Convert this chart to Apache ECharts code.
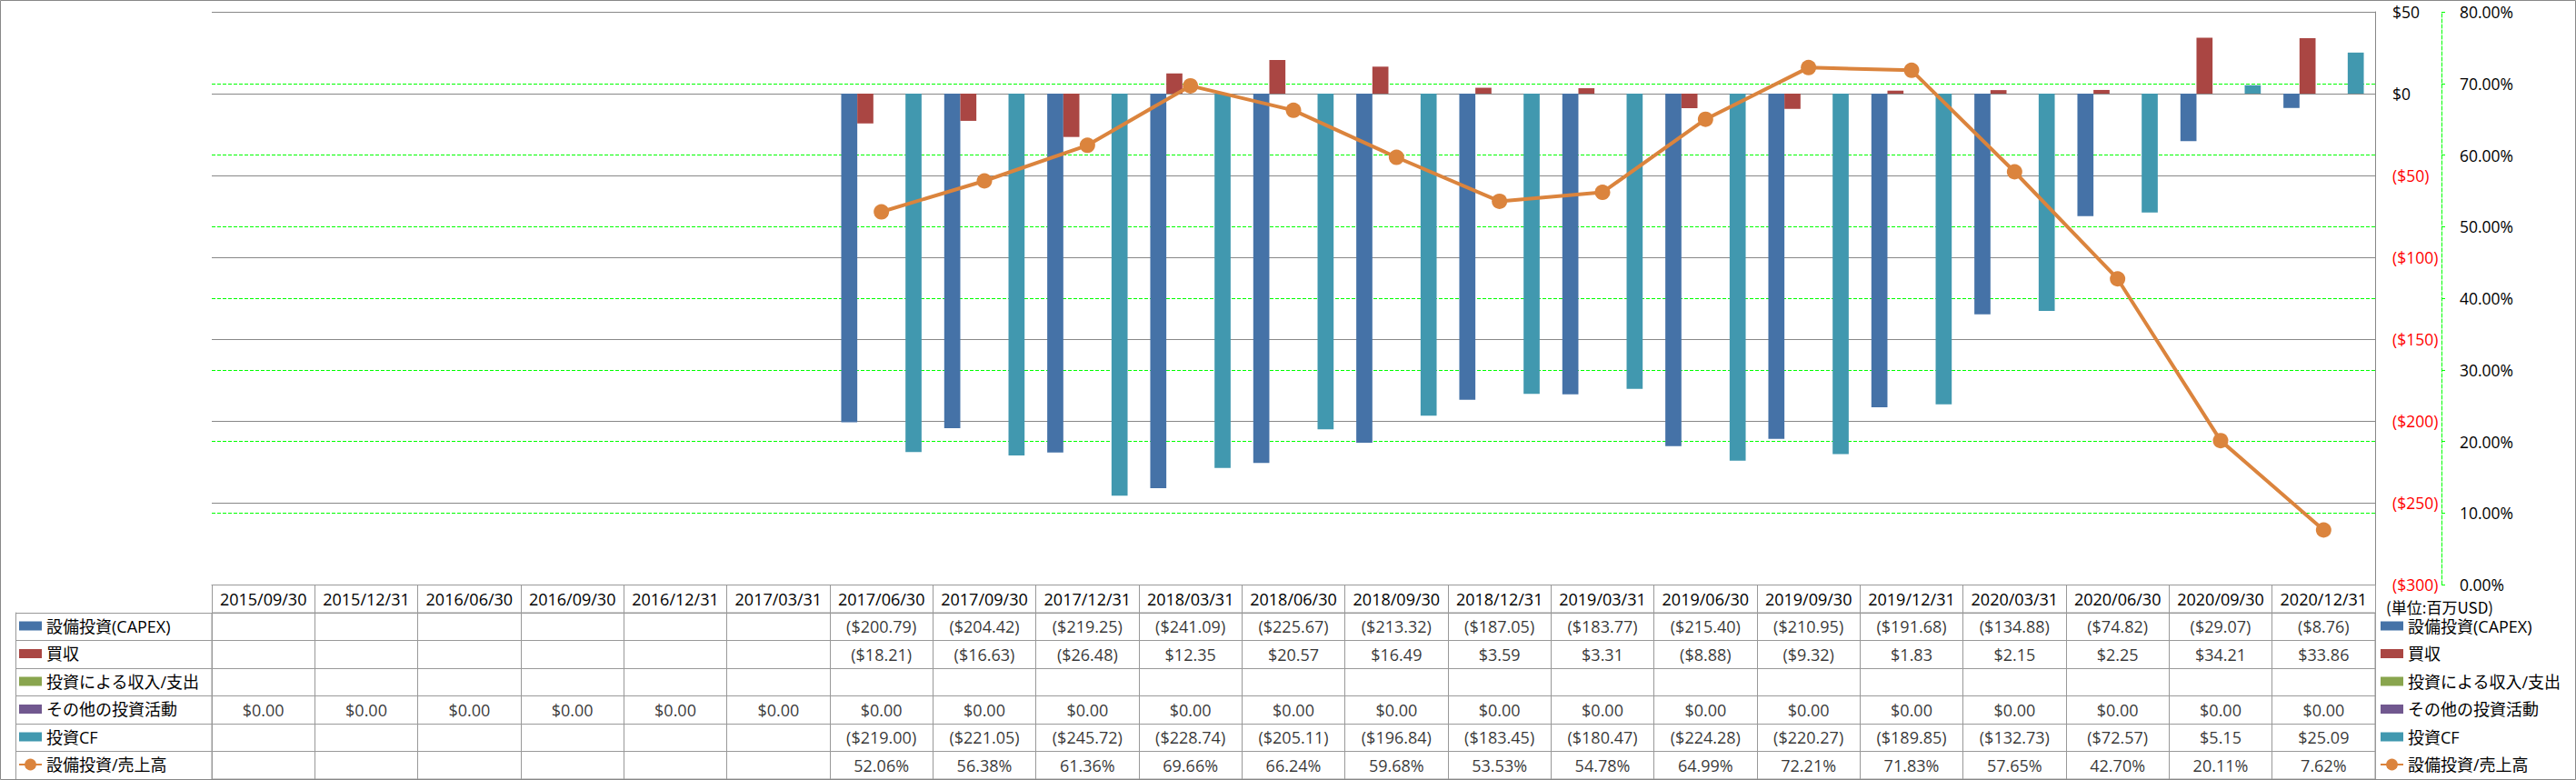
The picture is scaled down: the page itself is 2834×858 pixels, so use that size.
<!DOCTYPE html>
<html><head><meta charset="utf-8">
<script src="https://cdn.jsdelivr.net/npm/echarts@6/dist/echarts.min.js"></script>
<style>html,body{margin:0;padding:0;background:#fff;}#c{width:2834px;height:858px;}</style>
</head><body><div id="c"></div>
<script>
const categories = ['2015/09/30','2015/12/31','2016/06/30','2016/09/30','2016/12/31','2017/03/31','2017/06/30','2017/09/30','2017/12/31','2018/03/31','2018/06/30','2018/09/30','2018/12/31','2019/03/31','2019/06/30','2019/09/30','2019/12/31','2020/03/31','2020/06/30','2020/09/30','2020/12/31'];
const seriesNames = ['設備投資(CAPEX)','買収','投資による収入/支出','その他の投資活動','投資CF','設備投資/売上高'];
const capex = [null,null,null,null,null,null,-200.79,-204.42,-219.25,-241.09,-225.67,-213.32,-187.05,-183.77,-215.40,-210.95,-191.68,-134.88,-74.82,-29.07,-8.76];
const acquisition = [null,null,null,null,null,null,-18.21,-16.63,-26.48,12.35,20.57,16.49,3.59,3.31,-8.88,-9.32,1.83,2.15,2.25,34.21,33.86];
const investIncome = [null,null,null,null,null,null,null,null,null,null,null,null,null,null,null,null,null,null,null,null,null];
const otherInvest = [0,0,0,0,0,0,0,0,0,0,0,0,0,0,0,0,0,0,0,0,0];
const investCF = [null,null,null,null,null,null,-219.00,-221.05,-245.72,-228.74,-205.11,-196.84,-183.45,-180.47,-224.28,-220.27,-189.85,-132.73,-72.57,5.15,25.09];
const capexRatio = [null,null,null,null,null,null,52.06,56.38,61.36,69.66,66.24,59.68,53.53,54.78,64.99,72.21,71.83,57.65,42.70,20.11,7.62];
const leftTicks = [-300,-250,-200,-150,-100,-50,0,50];
const rightTicks = [0,10,20,30,40,50,60,70,80];
const unitLabel = '(単位:百万USD)';

const colors = ['#4572A7','#AA4643','#89A54E','#71588F','#4198AF','#DB843D'];
const rows = [capex, acquisition, investIncome, otherInvest, investCF, capexRatio];
const rowIds = rows.map((_, i) => String(i));

function fmtMoney(v){ return v < 0 ? '($' + (-v).toFixed(2) + ')' : '$' + v.toFixed(2); }
function fmtPct(v){ return v.toFixed(2) + '%'; }

const tableData = [];
rows.forEach((arr, r) => {
  arr.forEach((v, i) => {
    if (v === null || v === undefined) return;
    tableData.push({ name: r === 5 ? fmtPct(v) : fmtMoney(v), value: [i, r] });
  });
});

const latinFont = 'Open Sans';
const cjkFont = '"Open Sans", "Noto Sans CJK JP"';
const rectIcon = 'path://M0,0H25V10H0Z';
function legendCfg(left){
  return {
    orient: 'vertical', left: left, top: 678.5, padding: 0,
    itemWidth: 25, itemHeight: 16, itemGap: 10.5,
    textStyle: { fontSize: 18, lineHeight: 20, fontFamily: cjkFont, color: '#000' },
    data: seriesNames.map((n, i) => i < 5 ? { name: n, icon: rectIcon } : { name: n }),
    selectedMode: false
  };
}

const chart = echarts.init(document.getElementById('c'), null, { renderer: 'svg' });
const barSeries = [capex, acquisition, investIncome, otherInvest, investCF].map((d, i) => ({
  name: seriesNames[i], type: 'bar', xAxisIndex: 0, yAxisIndex: 0, data: d,
  barGap: '0%', barCategoryGap: '22%', itemStyle: { color: colors[i] }
}));

chart.setOption({
  animation: false,
  color: colors,
  legend: [legendCfg(20), legendCfg(2618)],
  grid: [
    { left: 233, right: 221, top: 13, bottom: 215 },
    { left: 233, right: 221, top: 674, bottom: 1, show: true, borderColor: '#999', borderWidth: 1 }
  ],
  xAxis: [
    { gridIndex: 0, type: 'category', data: categories, position: 'bottom',
      axisLabel: { show: false }, axisTick: { show: false },
      axisLine: { show: true, onZero: false, lineStyle: { color: '#999' } }, splitLine: { show: false } },
    { gridIndex: 1, type: 'category', data: categories, position: 'top',
      axisLine: { show: true, lineStyle: { color: '#999' } },
      axisTick: { show: true, interval: 0, length: 31, lineStyle: { color: '#999' } },
      axisLabel: { show: true, interval: 0, margin: 6.5, fontSize: 18, fontFamily: latinFont, color: '#000' },
      splitLine: { show: true, interval: 0, lineStyle: { color: '#999' } } }
  ],
  yAxis: [
    { gridIndex: 0, type: 'value', position: 'right',
      min: leftTicks[0], max: leftTicks[leftTicks.length - 1], interval: leftTicks[1] - leftTicks[0],
      axisLine: { show: true, lineStyle: { color: '#888' } }, axisTick: { show: false },
      axisLabel: { margin: 19, align: 'left', fontSize: 17.5, fontFamily: latinFont,
        color: v => (v < 0 ? '#FF0000' : '#000'),
        formatter: v => (v < 0 ? '($' + (-v) + ')' : '$' + v) },
      splitLine: { show: true, lineStyle: { color: '#888', width: 1 } } },
    { gridIndex: 0, type: 'value', position: 'right', offset: 73,
      min: rightTicks[0], max: rightTicks[rightTicks.length - 1], interval: rightTicks[1] - rightTicks[0],
      axisLine: { show: true, lineStyle: { color: '#00FF00', type: [4, 2] } },
      axisTick: { show: true, length: 4, lineStyle: { color: '#00FF00' } },
      axisLabel: { margin: 20, fontSize: 17.5, fontFamily: latinFont, color: '#000', formatter: v => v.toFixed(2) + '%' },
      splitLine: { show: true, showMinLine: false, showMaxLine: false, lineStyle: { color: '#00FF00', type: [4, 2], width: 1 } } },
    { gridIndex: 1, type: 'category', data: rowIds, inverse: true, position: 'left',
      axisLine: { show: true, lineStyle: { color: '#999' } },
      axisTick: { show: true, interval: 0, length: 216, lineStyle: { color: '#999' } },
      axisLabel: { show: false },
      splitLine: { show: true, interval: 0, lineStyle: { color: '#999' } } },
    { gridIndex: 1, type: 'category', data: rowIds, inverse: true, position: 'left', offset: 216,
      axisLine: { show: true, lineStyle: { color: '#999' } },
      axisTick: { show: false }, axisLabel: { show: false }, splitLine: { show: false } }
  ],
  series: barSeries.concat([
    { name: seriesNames[5], type: 'line', xAxisIndex: 0, yAxisIndex: 1, data: capexRatio,
      symbol: 'circle', symbolSize: 17, connectNulls: false,
      lineStyle: { width: 4, color: colors[5] }, itemStyle: { color: colors[5] }, z: 5 },
    { name: 'table', type: 'scatter', xAxisIndex: 1, yAxisIndex: 2, data: tableData,
      symbol: 'rect', symbolSize: 2, itemStyle: { color: 'rgba(0,0,0,0)' }, silent: true,
      label: { show: true, position: 'inside', formatter: '{b}', fontSize: 18, fontFamily: latinFont, color: '#000' } }
  ]),
  graphic: [
    { type: 'text', x: 2625, y: 667, silent: true,
      style: { text: unitLabel, font: '17px "Noto Sans CJK JP"', fill: '#000', verticalAlign: 'middle' } },
    { type: 'rect', silent: true, z: 100, shape: { x: 0.5, y: 0.5, width: 2833, height: 857 },
      style: { fill: 'none', stroke: '#888', lineWidth: 1 } }
  ]
});
</script></body></html>
